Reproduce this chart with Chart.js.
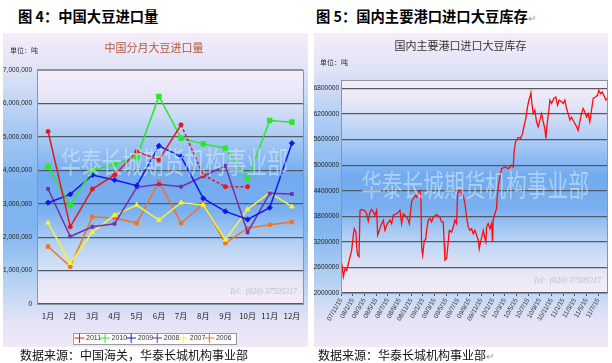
<!DOCTYPE html>
<html lang="zh">
<head>
<meta charset="UTF-8">
<title>中国大豆进口量 / 国内主要港口进口大豆库存</title>
<script src="https://cdn.jsdelivr.net/npm/chart.js"></script>
<style>
  body { margin: 0; width: 612px; height: 363px; background: #fff; position: relative; overflow: hidden;
         font-family: "Noto Sans CJK SC", sans-serif; }
  .fig { position: absolute; top: 5px; font-size: 14.3px; font-weight: bold; color: #000; white-space: nowrap; }
  .panel { position: absolute; top: 33px; height: 314px; overflow: hidden;
           background: linear-gradient(to bottom, #f6ecf8 0%, #dfe3f6 12%, #a9caf3 30%, #7fb3ef 48%, #80b4ef 62%, #b2d0f3 78%, #e4e3f6 92%, #f2e8f7 100%); }
  .panel canvas { display: block; }
  .src { position: absolute; top: 346px; font-size: 12px; color: #111; white-space: nowrap; }
  .pm { color: #999; font-weight: normal; font-size: 10px; }
</style>
</head>
<body>
<div class="fig" style="left:18px">图 4：中国大豆进口量</div>
<div class="fig" style="left:316px">图 5：国内主要港口进口大豆库存<span class="pm">↵</span></div>

<div class="panel" style="left:3px;width:305px"><canvas id="importChart" width="305" height="314"></canvas></div>
<div class="panel" style="left:314px;width:294px"><canvas id="stockChart" width="294" height="314"></canvas></div>

<div class="src" style="left:20px">数据来源：中国海关，华泰长城机构事业部</div>
<div class="src" style="left:318px">数据来源：华泰长城机构事业部<span class="pm">↵</span></div>

<script>
  // ---- data: monthly imports (tons) ----
  const months = ['1月', '2月', '3月', '4月', '5月', '6月', '7月', '8月', '9月', '10月', '11月', '12月'];
  const imp2011 = [5160000, 2310000, 3440000, 3860000, 4560000, 4310000, 5360000, 3860000, 3510000, 3510000, null, null];
  const imp2010 = [4110000, 2960000, 4010000, 4190000, 4380000, 6210000, 4960000, 4790000, 4660000, 3740000, 5490000, 5440000];
  const imp2009 = [3030000, 3280000, 3860000, 3710000, 3540000, 4730000, 4410000, 3160000, 2770000, 2530000, 2880000, 4810000];
  const imp2008 = [3440000, 2020000, 2310000, 2400000, 3490000, 3580000, 3510000, 3820000, 4130000, 2140000, 3310000, 3290000];
  const imp2007 = [2430000, 1220000, 2150000, 2660000, 2960000, 2510000, 3030000, 2960000, 1920000, 2830000, 3330000, 2910000];
  const imp2006 = [1720000, 1120000, 2610000, 2570000, 2420000, 3660000, 2420000, 2990000, 1820000, 2270000, 2370000, 2450000];
  const importTicks = [0, 1000000, 2000000, 3000000, 4000000, 5000000, 6000000, 7000000];

  // ---- data: port stocks (tons), x = months after 2007-11-15 ----
  const stockMonth = [0.00, 0.23, 0.40, 0.68, 0.97, 1.54, 1.82, 2.11, 2.28, 2.56, 2.68, 2.85, 3.08, 3.25, 3.53, 4.10, 4.39, 4.67, 4.96, 5.24,
    5.53, 5.81, 6.10, 6.27, 6.55, 6.84, 7.24, 7.52, 7.92, 8.38, 8.66, 8.95, 9.51, 10.09, 10.37, 10.66, 10.94, 11.22, 11.51, 11.68,
    12.08, 12.36, 12.65, 12.93, 13.22, 13.50, 13.68, 13.79, 13.96, 14.07, 14.25, 14.48, 14.64, 14.93, 15.21, 15.50, 15.78, 16.35, 16.92, 17.21,
    17.49, 17.66, 17.78, 18.06, 18.23, 18.52, 18.92, 19.20, 19.49, 19.77, 19.94, 20.17, 20.34, 20.63, 20.91, 21.20, 21.48, 21.77, 22.05, 22.34,
    22.62, 22.91, 23.19, 23.48, 23.65, 23.87, 24.16, 24.33, 24.62, 24.79, 24.90, 25.19, 25.47, 25.76, 25.93, 26.04, 26.32, 26.61, 26.72, 26.89,
    27.18, 27.46, 28.03, 28.60, 29.17, 29.46, 29.63, 29.86, 30.31, 30.71, 31.05, 31.28, 31.62, 31.85, 32.14, 32.31, 32.48, 32.65, 32.88, 33.16,
    33.45, 33.73, 34.02, 34.30, 34.59, 34.87, 35.05, 35.27, 35.56, 35.73, 36.01, 36.41, 36.75, 37.04, 37.32, 37.72, 38.01, 38.29, 38.58, 38.86,
    39.15, 39.43, 39.83, 40.17, 40.57, 40.85, 41.14, 41.42, 41.71, 42.00, 42.28, 42.56, 42.85, 43.13, 43.53, 43.87, 44.10, 44.39, 44.67, 44.96,
    45.30, 45.45];
  const stockTons = [2770000, 2600000, 2380000, 2570000, 2530000, 2850000, 3000000, 3360000, 3510000, 3430000, 3080000, 2890000, 2850000, 3940000, 3960000, 3930000, 3860000, 3690000, 3900000, 3960000,
    3900000, 3820000, 3940000, 3360000, 3470000, 3590000, 3710000, 3470000, 3630000, 3710000, 3630000, 3830000, 3860000, 3940000, 3630000, 3860000, 3820000, 3780000, 3710000, 3630000,
    4140000, 4220000, 4290000, 4250000, 4370000, 4410000, 4180000, 3080000, 2890000, 3000000, 3240000, 3250000, 3470000, 3710000, 3750000, 3670000, 3780000, 3840000, 3780000, 3670000,
    3670000, 3160000, 2770000, 2810000, 3040000, 3470000, 3430000, 3550000, 3710000, 3630000, 4330000, 4410000, 4410000, 4330000, 4290000, 4100000, 3780000, 3550000, 3470000, 3510000,
    3390000, 3470000, 3360000, 3240000, 3040000, 3200000, 3360000, 3470000, 3280000, 3200000, 3550000, 3630000, 3510000, 3630000, 3200000, 3710000, 3860000, 3980000, 4250000, 4490000,
    4720000, 4920000, 4960000, 4920000, 5000000, 4960000, 5350000, 5550000, 5650000, 5630000, 5740000, 5900000, 6100000, 6330000, 6530000, 6600000, 6700000, 6450000, 6210000, 6290000,
    6020000, 5900000, 6060000, 6210000, 6020000, 5860000, 5630000, 5980000, 6290000, 6530000, 6450000, 6570000, 6600000, 6410000, 6530000, 6490000, 6450000, 6530000, 6330000, 6210000,
    6060000, 6130000, 6020000, 5940000, 5820000, 6020000, 6210000, 6330000, 6250000, 6130000, 6210000, 6020000, 6290000, 6570000, 6600000, 6640000, 6760000, 6680000, 6720000, 6640000,
    6530000, 6570000];
  const stockTickMonths = [0, 2, 4, 6, 8, 10, 12, 14, 16, 18, 20, 22, 24, 26, 28, 30, 32, 34, 36, 38, 40, 42, 44];
  const stockTickLabels = ['07/11/15', '08/1/15', '08/3/15', '08/5/15', '08/7/15', '08/9/15', '08/11/15', '09/1/15', '09/3/15', '09/5/15',
    '09/7/15', '09/9/15', '09/11/15', '10/1/15', '10/3/15', '10/5/15', '10/7/15', '10/9/15', '10/11/15', '11/1/15', '11/3/15', '11/5/15', '11/7/15'];
  const stockTicks = [2000000, 2600000, 3200000, 3800000, 4400000, 5000000, 5600000, 6200000, 6800000];

  const CJK = '"Noto Sans CJK SC", sans-serif';
  const NARROW = '"Liberation Sans Narrow", sans-serif';
  const GRID = '#4f5b68';
  const EDGE = '#8d95a3';

  // plot background, unit label, legend frame, watermark, tel, plot border
  function decor(o) {
    return {
      id: 'decor',
      beforeDraw(chart) {
        const {ctx, chartArea: a} = chart;
        const g = ctx.createLinearGradient(0, a.top, 0, a.bottom);
        g.addColorStop(0, '#f8eef9');
        g.addColorStop(0.12, '#e4e5f7');
        g.addColorStop(0.3, '#a6c9f4');
        g.addColorStop(0.45, '#72aaf0');
        g.addColorStop(0.6, '#7aaff0');
        g.addColorStop(0.75, '#b7d3f4');
        g.addColorStop(0.9, '#e6e6f7');
        g.addColorStop(1, '#f6ebf7');
        ctx.save();
        ctx.fillStyle = g;
        ctx.fillRect(a.left, a.top, a.width, a.height);
        ctx.font = '7px ' + CJK;
        ctx.fillStyle = '#333';
        ctx.textBaseline = 'middle';
        ctx.fillText('单位：吨', o.unitX, o.unitY);
        const lg = chart.legend;
        if (lg && lg.options.display && lg.legendHitBoxes.length) {
          const hb = lg.legendHitBoxes;
          const l = Math.min(...hb.map(h => h.left)) - 4;
          const r = Math.max(...hb.map(h => h.left + h.width)) + 4;
          const t = Math.round(hb[0].top - 2);
          ctx.fillStyle = '#fff';
          ctx.fillRect(l, t, r - l, hb[0].height + 4);
          ctx.strokeStyle = '#9a9a9a';
          ctx.lineWidth = 1;
          ctx.strokeRect(Math.round(l) + 0.5, t + 0.5, Math.round(r - l), hb[0].height + 4);
        }
        ctx.restore();
      },
      afterDatasetsDraw(chart) {
        const {ctx, chartArea: a} = chart;
        ctx.save();
        ctx.translate(o.wmX, o.wmY);
        ctx.scale(0.69, 1);
        ctx.font = '30px ' + CJK;
        ctx.textAlign = 'center';
        ctx.textBaseline = 'middle';
        ctx.fillStyle = 'rgba(214, 238, 250, 0.55)';
        ctx.fillText('华泰长城期货机构事业部', 0, 0);
        ctx.restore();
        ctx.save();
        ctx.font = 'italic 8px "Liberation Serif", serif';
        ctx.fillStyle = '#b9bdcc';
        ctx.textAlign = 'right';
        ctx.textBaseline = 'middle';
        ctx.fillText('Tel:  (020) 37595317', a.right - 6, o.telY);
        ctx.restore();
      },
      afterDraw(chart) {
        const {ctx, chartArea: a} = chart;
        ctx.save();
        ctx.strokeStyle = EDGE;
        ctx.lineWidth = 1;
        ctx.strokeRect(Math.round(a.left) + 0.5, Math.round(a.top) + 0.5, Math.round(a.width), Math.round(a.height));
        ctx.restore();
      }
    };
  }

  function yearSet(label, data, color, style, radius) {
    return {
      label: label, data: data, borderColor: color, backgroundColor: color,
      borderWidth: 1.5, pointStyle: style, pointRadius: radius, pointBorderWidth: 1, tension: 0
    };
  }

  const s2011 = yearSet('2011', imp2011, '#e8161c', 'circle', 2);
  s2011.segment = { borderDash: c => c.p0DataIndex >= 6 ? [3, 2] : undefined };

  new Chart(document.getElementById('importChart'), {
    type: 'line',
    data: {
      labels: months,
      datasets: [
        s2011,
        yearSet('2010', imp2010, '#2ee62e', 'rect', 3.2),
        yearSet('2009', imp2009, '#1018ec', 'rectRot', 2.6),
        yearSet('2008', imp2008, '#7530a6', 'rect', 2),
        yearSet('2007', imp2007, '#f4f43a', 'triangle', 2.6),
        yearSet('2006', imp2006, '#ee7424', 'rect', 2.4)
      ]
    },
    options: {
      responsive: false,
      animation: false,
      layout: { padding: { left: 0, right: 3, top: 0, bottom: -4.5 } },
      plugins: {
        title: {
          display: true, text: '中国分月大豆进口量', color: '#b0563c',
          font: { family: CJK, size: 11, weight: 'normal', lineHeight: 1.2 },
          padding: { top: 8, bottom: 15.8 }
        },
        legend: {
          position: 'bottom',
          labels: {
            usePointStyle: true, pointStyle: 'cross', boxWidth: 6, boxHeight: 7, padding: 1,
            font: { family: NARROW, size: 7 }, color: '#333'
          }
        },
        tooltip: { enabled: false }
      },
      scales: {
        x: {
          offset: true,
          grid: { display: false, drawTicks: false, tickLength: 0 },
          border: { color: EDGE },
          ticks: { font: { family: CJK, size: 8 }, color: '#222', padding: 7, autoSkip: false, maxRotation: 0 },
          afterFit: s => { s.height = 29.5; }
        },
        y: {
          min: 0, max: 7000000,
          afterBuildTicks: s => { s.ticks = importTicks.map(v => ({ value: v })); },
          grid: { color: c => c.tick.value === 7000000 ? EDGE : GRID, lineWidth: 1.2, drawTicks: false },
          border: { display: false },
          ticks: { callback: v => v.toLocaleString('en-US'), font: { family: NARROW, size: 6.5 }, color: '#222', padding: 5 },
          afterFit: s => { s.width = 34; }
        }
      }
    },
    plugins: [decor({ unitX: 7, unitY: 17, wmX: 171, wmY: 129, telY: 259 })]
  });

  new Chart(document.getElementById('stockChart'), {
    type: 'line',
    data: {
      datasets: [{
        label: '库存',
        data: stockMonth.map((m, i) => ({ x: m, y: stockTons[i] })),
        borderColor: '#ff0c0c', borderWidth: 1.3, pointRadius: 0, tension: 0
      }]
    },
    options: {
      responsive: false,
      animation: false,
      layout: { padding: { left: 0, right: 1, top: 0, bottom: 0 } },
      plugins: {
        title: {
          display: true, text: '国内主要港口进口大豆库存', color: '#333',
          font: { family: CJK, size: 11, weight: 'normal', lineHeight: 1.2 },
          padding: { top: 6, bottom: 27.8 }
        },
        legend: { display: false },
        tooltip: { enabled: false }
      },
      scales: {
        x: {
          type: 'linear', min: 0, max: 45.5,
          afterBuildTicks: s => { s.ticks = stockTickMonths.map(v => ({ value: v })); },
          grid: { drawOnChartArea: false, tickLength: 3, color: '#555' },
          border: { color: EDGE },
          ticks: {
            callback: (v, i) => stockTickLabels[i], minRotation: 60, maxRotation: 60, autoSkip: false,
            font: { family: NARROW, size: 6.5 }, color: '#333', padding: 1
          },
          afterFit: s => { s.height = 54; }
        },
        y: {
          min: 2000000, max: 7000000,
          afterBuildTicks: s => { s.ticks = stockTicks.map(v => ({ value: v })); },
          grid: { color: GRID, lineWidth: 1.2, drawTicks: false },
          border: { display: false },
          ticks: { callback: v => String(v), font: { family: NARROW, size: 6.5 }, color: '#222', padding: 2 },
          afterFit: s => { s.width = 27; }
        }
      }
    },
    plugins: [decor({ unitX: 6, unitY: 29, wmX: 161, wmY: 152, telY: 248 })]
  });
</script>
</body>
</html>
